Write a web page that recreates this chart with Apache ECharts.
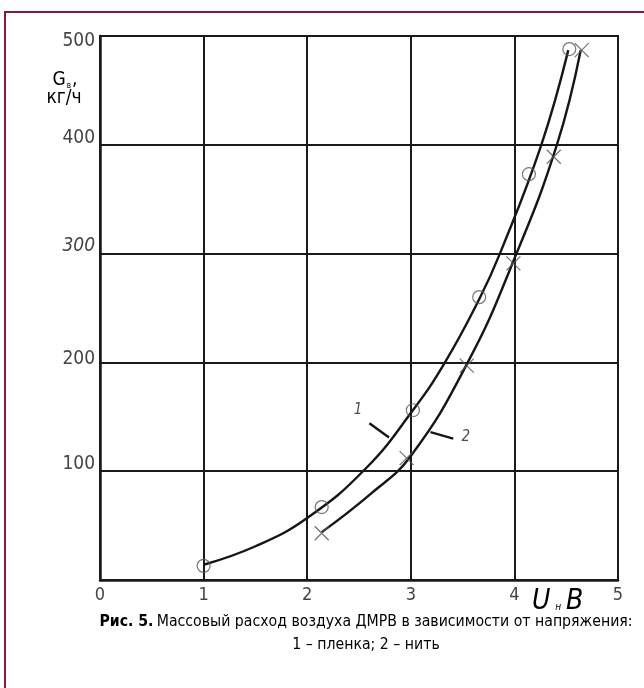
<!DOCTYPE html>
<html>
<head>
<meta charset="utf-8">
<script src="https://cdn.jsdelivr.net/npm/echarts@6/dist/echarts.min.js"></script>
<style>
  html, body { margin: 0; padding: 0; background: #fff; }
  #chart { width: 644px; height: 688px; }
</style>
</head>
<body>
<div id="chart"></div>
<script>
// Axis ticks
const xTicks = [0, 1, 2, 3, 4, 5];
const yTicks = [100, 200, 300, 400, 500];

// Measured points: 1 – film sensor (circles), 2 – wire sensor (crosses)
const filmU = [1.0, 2.14, 3.02, 3.66, 4.14, 4.53];
const filmG = [13, 67, 156, 260, 373, 488];
const wireU = [2.14, 2.96, 3.54, 3.99, 4.38, 4.65];
const wireG = [43, 112, 197, 291, 389, 487];

// Approximating curves drawn through the measurements
const curve1U = [1.0, 1.5, 2.0, 2.56, 3.02, 3.33, 3.66, 3.86, 4.26, 4.52];
const curve1G = [14, 31, 57, 102, 156, 200, 258, 300, 400, 487];
const curve2U = [2.14, 2.61, 3.0, 3.55, 3.99, 4.41, 4.64];
const curve2G = [44, 79, 114, 200, 293, 400, 487];

// Curve callouts: label position and leader line ends
const calloutNames = ['1', '2'];
const calloutU = [2.49, 3.53];
const calloutG = [156, 131];
const leader1 = [[2.60, 144], [2.79, 131]];
const leader2 = [[3.19, 136], [3.41, 130]];

const zip = (a, b) => a.map((v, i) => [v, b[i]]);
const narrow = "'Liberation Sans Narrow', 'DejaVu Sans Condensed', sans-serif";
const crossPath = 'path://M0,0 L10,10 M10,0 L0,10';

// vertical offset style of each y tick label (relative to its grid line)
const yLabelStyle = { 500: 'c', 400: 'u', 300: 'ui', 200: 's', 100: 'u' };
const labelBase = { fontFamily: narrow, fontSize: 19, color: '#444' };

const chart = echarts.init(document.getElementById('chart'), null, { renderer: 'canvas' });

const option = {
  animation: false,
  backgroundColor: '#ffffff',
  grid: {
    left: 100, right: 26, top: 36, bottom: 108,
    show: true, borderColor: '#1a1a1a', borderWidth: 2
  },
  xAxis: {
    type: 'value', min: 0, max: 5, interval: 1,
    axisLine: { show: true, lineStyle: { color: '#1a1a1a', width: 2.5 } },
    axisTick: { show: false },
    splitLine: { show: true, lineStyle: { color: '#1a1a1a', width: 2 } },
    axisLabel: {
      color: '#444', fontFamily: narrow, fontSize: 18, margin: 6,
      formatter: v => xTicks.includes(v) ? String(v) : ''
    }
  },
  yAxis: {
    type: 'value', min: 0, max: 500, interval: 100,
    axisLine: { show: true, lineStyle: { color: '#1a1a1a', width: 2.5 } },
    axisTick: { show: false },
    splitLine: { show: true, lineStyle: { color: '#1a1a1a', width: 2 } },
    axisLabel: {
      margin: 5, verticalAlign: 'middle',
      formatter: v => yTicks.includes(v) ? '{' + yLabelStyle[v] + '|' + v + '}' : '',
      rich: {
        c: Object.assign({}, labelBase, { padding: [10, 0, 0, 0] }),
        u: Object.assign({}, labelBase, { padding: [0, 0, 14, 0] }),
        ui: Object.assign({}, labelBase, { padding: [0, 0, 16, 0], fontStyle: 'italic' }),
        s: Object.assign({}, labelBase, { padding: [0, 0, 6, 0] })
      }
    }
  },
  series: [
    {
      name: 'curve1', type: 'line', data: zip(curve1U, curve1G),
      smooth: 0.45, symbol: 'none',
      lineStyle: { color: '#161616', width: 2.4 }, z: 3
    },
    {
      name: 'curve2', type: 'line', data: zip(curve2U, curve2G),
      smooth: 0.45, symbol: 'none',
      lineStyle: { color: '#161616', width: 2.4 }, z: 3
    },
    {
      name: '1 – пленка', type: 'scatter', data: zip(filmU, filmG),
      symbol: 'circle', symbolSize: 13,
      itemStyle: { color: 'rgba(0,0,0,0)', borderColor: '#555', borderWidth: 1.2 }, z: 4
    },
    {
      name: '2 – нить', type: 'scatter', data: zip(wireU, wireG),
      symbol: crossPath, symbolSize: 14,
      itemStyle: { color: 'rgba(0,0,0,0)', borderColor: '#555', borderWidth: 1.3 }, z: 4
    },
    {
      name: 'leader1', type: 'line', data: leader1, symbol: 'none',
      lineStyle: { color: '#161616', width: 2.4 }, z: 3
    },
    {
      name: 'leader2', type: 'line', data: leader2, symbol: 'none',
      lineStyle: { color: '#161616', width: 2.4 }, z: 3
    },
    {
      name: 'callouts', type: 'scatter', symbolSize: 0,
      data: calloutNames.map((n, i) => ({ name: n, value: [calloutU[i], calloutG[i]] })),
      label: {
        show: true, position: 'inside', formatter: p => p.name,
        fontStyle: 'italic', fontFamily: narrow, fontSize: 15, color: '#222'
      }, z: 5
    }
  ],
  graphic: [
    // page frame (top and left rules)
    { type: 'rect', shape: { x: 4, y: 11, width: 640, height: 2 }, style: { fill: '#7d1a47' }, silent: true },
    { type: 'rect', shape: { x: 4, y: 11, width: 2, height: 677 }, style: { fill: '#7d1a47' }, silent: true },
    // y axis name
    {
      type: 'text', x: 65, y: 90,
      style: {
        text: '{g|G}{s|в}{g|,}', align: 'center', verticalAlign: 'bottom',
        rich: {
          g: { fontFamily: narrow, fontSize: 19, color: '#333' },
          s: { fontFamily: narrow, fontSize: 8, color: '#333', padding: [10, 1, 0, 1] }
        }
      }
    },
    {
      type: 'text', x: 64, y: 108,
      style: {
        text: 'кг/ч', align: 'center', verticalAlign: 'bottom',
        fontFamily: narrow, fontSize: 19, color: '#333'
      }
    },
    // x axis name
    {
      type: 'text', left: 532, top: 588,
      style: {
        text: '{b|U}{s| н }{b|B}',
        rich: {
          b: { fontFamily: narrow, fontStyle: 'italic', fontSize: 28, color: '#333' },
          s: { fontFamily: narrow, fontStyle: 'italic', fontSize: 10, color: '#333', padding: [10, 2, 0, 2] }
        }
      }
    },
    // caption
    {
      type: 'text', x: 366, y: 622,
      style: {
        text: '{b|Рис. 5.} {n|Массовый расход воздуха ДМРВ в зависимости от напряжения:}',
        align: 'center', verticalAlign: 'middle',
        rich: {
          b: { fontFamily: narrow, fontWeight: 'bold', fontSize: 15.7, color: '#222' },
          n: { fontFamily: narrow, fontSize: 15.7, color: '#222' }
        }
      }
    },
    {
      type: 'text', x: 366, y: 645,
      style: {
        text: '1 – пленка; 2 – нить', align: 'center', verticalAlign: 'middle',
        fontFamily: narrow, fontSize: 15.7, color: '#222'
      }
    }
  ]
};

chart.setOption(option);
</script>
</body>
</html>
